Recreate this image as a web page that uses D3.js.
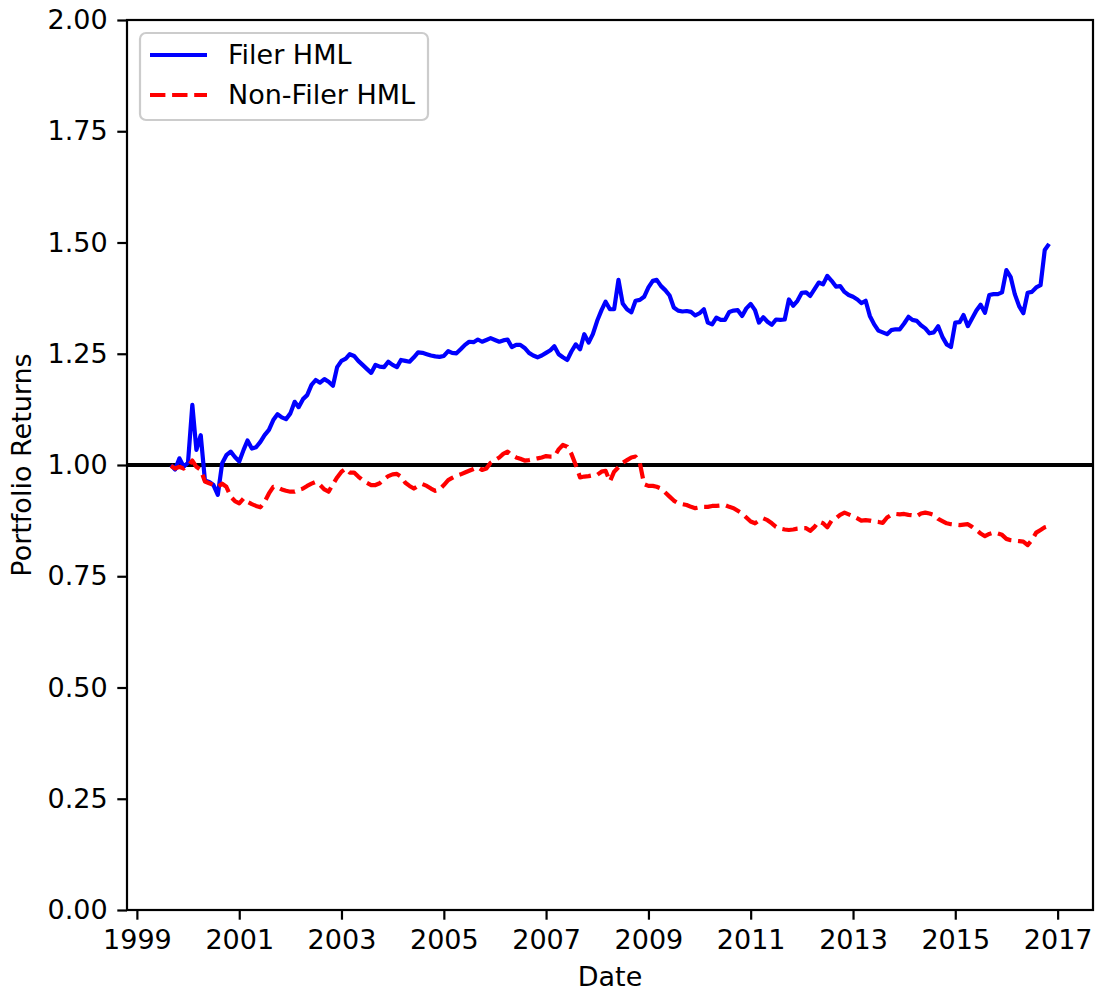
<!DOCTYPE html>
<html>
<head>
<meta charset="utf-8">
<script src="https://cdn.jsdelivr.net/npm/d3@7"></script>
<style>
  body { margin: 0; background: #fff; }
  svg { display: block; font-family: "DejaVu Sans", sans-serif; }
</style>
</head>
<body>
<div id="chart"></div>
<script>
// monthly series, first observation Sep 1999
var startMonth = new Date(1999, 8, 1)

var filerHML = [
  1.000, 0.990, 1.015, 0.996, 1.005, 1.135, 1.034, 1.067, 0.965, 0.962,
  0.955, 0.933, 1.004, 1.022, 1.030, 1.018, 1.008, 1.034, 1.055, 1.037,
  1.040, 1.052, 1.067, 1.079, 1.101, 1.114, 1.107, 1.103, 1.116, 1.142,
  1.130, 1.148, 1.157, 1.180, 1.191, 1.185, 1.193, 1.187, 1.178, 1.220,
  1.234, 1.239, 1.249, 1.245, 1.234, 1.225, 1.216, 1.207, 1.225, 1.221,
  1.220, 1.232, 1.225, 1.220, 1.236, 1.234, 1.232, 1.242, 1.253, 1.252,
  1.249, 1.246, 1.244, 1.243, 1.245, 1.256, 1.252, 1.251, 1.260, 1.270,
  1.277, 1.276, 1.282, 1.277, 1.281, 1.285, 1.281, 1.277, 1.280, 1.282,
  1.265, 1.270, 1.270, 1.263, 1.252, 1.246, 1.242, 1.246, 1.252, 1.258,
  1.267, 1.249, 1.242, 1.236, 1.255, 1.271, 1.260, 1.294, 1.275, 1.294,
  1.324, 1.348, 1.367, 1.350, 1.350, 1.416, 1.363, 1.350, 1.343, 1.369,
  1.371, 1.378, 1.399, 1.414, 1.416, 1.402, 1.393, 1.381, 1.354, 1.347,
  1.345, 1.346, 1.344, 1.336, 1.341, 1.350, 1.320, 1.316, 1.331, 1.326,
  1.326, 1.344, 1.347, 1.348, 1.335, 1.352, 1.362, 1.348, 1.320, 1.332,
  1.322, 1.315, 1.327, 1.326, 1.327, 1.372, 1.358, 1.369, 1.387, 1.388,
  1.380, 1.395, 1.410, 1.406, 1.425, 1.414, 1.401, 1.402, 1.389, 1.382,
  1.378, 1.372, 1.364, 1.369, 1.335, 1.316, 1.302, 1.298, 1.294, 1.303,
  1.305, 1.305, 1.318, 1.333, 1.326, 1.324, 1.314, 1.307, 1.296, 1.298,
  1.312, 1.288, 1.271, 1.265, 1.320, 1.321, 1.337, 1.312, 1.329, 1.347,
  1.360, 1.342, 1.382, 1.384, 1.384, 1.388, 1.438, 1.422, 1.384, 1.357,
  1.341, 1.387, 1.389, 1.399, 1.404, 1.483, 1.497
]

var nonFilerHML = [
  0.998, 0.992, 0.996, 0.992, 0.998, 1.010, 0.996, 0.989, 0.963, 0.959,
  0.955, 0.951, 0.958, 0.951, 0.929, 0.919, 0.914, 0.925, 0.917, 0.912,
  0.908, 0.905, 0.917, 0.936, 0.951, 0.950, 0.945, 0.942, 0.940, 0.940,
  0.944, 0.947, 0.953, 0.958, 0.962, 0.955, 0.945, 0.940, 0.957, 0.972,
  0.985, 0.992, 0.983, 0.983, 0.974, 0.966, 0.960, 0.955, 0.955, 0.959,
  0.968, 0.975, 0.979, 0.980, 0.974, 0.960, 0.953, 0.947, 0.953, 0.957,
  0.953, 0.947, 0.942, 0.945, 0.955, 0.966, 0.971, 0.976, 0.979, 0.983,
  0.987, 0.991, 0.995, 0.989, 0.992, 1.005, 1.011, 1.017, 1.025, 1.030,
  1.022, 1.017, 1.014, 1.010, 1.011, 1.013, 1.015, 1.017, 1.020, 1.019,
  1.019, 1.035, 1.045, 1.041, 1.025, 1.000, 0.972, 0.974, 0.975, 0.977,
  0.978, 0.985, 0.987, 0.963, 0.985, 0.995, 1.005, 1.011, 1.017, 1.019,
  1.004, 0.957, 0.953, 0.953, 0.951, 0.947, 0.938, 0.929, 0.920, 0.914,
  0.912, 0.910, 0.906, 0.903, 0.905, 0.906, 0.906, 0.908, 0.908, 0.909,
  0.910, 0.906, 0.903, 0.897, 0.891, 0.882, 0.873, 0.869, 0.875, 0.880,
  0.876, 0.869, 0.861, 0.857, 0.855, 0.854, 0.855, 0.857, 0.858, 0.858,
  0.852, 0.861, 0.873, 0.869, 0.860, 0.875, 0.880, 0.888, 0.893, 0.889,
  0.885, 0.880, 0.875, 0.876, 0.875, 0.873, 0.872, 0.870, 0.882, 0.888,
  0.890, 0.889, 0.890, 0.888, 0.887, 0.885, 0.891, 0.893, 0.891, 0.888,
  0.879, 0.874, 0.869, 0.867, 0.866, 0.865, 0.866, 0.867, 0.861, 0.854,
  0.846, 0.840, 0.845, 0.848, 0.846, 0.843, 0.834, 0.831, 0.830, 0.829,
  0.828, 0.820, 0.831, 0.848, 0.854, 0.860, 0.863
]

var xTickYears = [1999, 2001, 2003, 2005, 2007, 2009, 2011, 2013, 2015, 2017]
var yTicks = [0, 0.25, 0.5, 0.75, 1.0, 1.25, 1.5, 1.75, 2.0]
var seriesNames = ['Filer HML', 'Non-Filer HML']

var width = 1096, height = 991
var margin = {top: 20, right: 3, bottom: 81, left: 127}
var fontSize = 27

var svg = d3.select('#chart').append('svg')
  .attr('width', width)
  .attr('height', height)

var plotW = width - margin.left - margin.right
var plotH = height - margin.top - margin.bottom

var g = svg.append('g')
  .attr('transform', 'translate(' + margin.left + ',' + margin.top + ')')

var dates = filerHML.map(function(d, i) { return d3.timeMonth.offset(startMonth, i) })

// matplotlib-style 5% padding on the date axis
var ext = d3.extent(dates)
var pad = (ext[1] - ext[0]) * 0.05
var x = d3.scaleTime()
  .domain([new Date(+ext[0] - pad), new Date(+ext[1] + pad)])
  .range([0, plotW])

var y = d3.scaleLinear()
  .domain([0, 2])
  .range([plotH, 0])

var line = d3.line()
  .x(function(d) { return x(d[0]) })
  .y(function(d) { return y(d[1]) })

// reference line at 1
g.append('line')
  .attr('x1', 0).attr('x2', plotW)
  .attr('y1', y(1)).attr('y2', y(1))
  .attr('stroke', '#000')
  .attr('stroke-width', 4.2)

g.append('path')
  .datum(dates.map(function(d, i) { return [d, filerHML[i]] }))
  .attr('d', line)
  .attr('fill', 'none')
  .attr('stroke', '#0000ff')
  .attr('stroke-width', 4.2)
  .attr('stroke-linejoin', 'round')
  .attr('stroke-linecap', 'butt')

g.append('path')
  .datum(dates.map(function(d, i) { return [d, nonFilerHML[i]] }))
  .attr('d', line)
  .attr('fill', 'none')
  .attr('stroke', '#ff0000')
  .attr('stroke-width', 4.2)
  .attr('stroke-dasharray', '15.4,6.7')
  .attr('stroke-linejoin', 'round')

// axes
var xAxis = d3.axisBottom(x)
  .tickValues(xTickYears.map(function(yr) { return new Date(yr, 0, 1) }))
  .tickFormat(d3.timeFormat('%Y'))
  .tickSize(9.7)
  .tickPadding(9.7)

var yAxis = d3.axisLeft(y)
  .tickValues(yTicks)
  .tickFormat(d3.format('.2f'))
  .tickSize(9.7)
  .tickPadding(9.7)

var gx = g.append('g')
  .attr('transform', 'translate(0,' + plotH + ')')
  .call(xAxis)
var gy = g.append('g').call(yAxis)

;[gx, gy].forEach(function(ax) {
  ax.select('.domain').remove()
  ax.selectAll('line').attr('stroke', '#000').attr('stroke-width', 2.2)
  ax.selectAll('text')
    .attr('fill', '#000')
    .style('font-size', fontSize + 'px')
    .style('font-family', '"DejaVu Sans", sans-serif')
})

// frame
g.append('rect')
  .attr('width', plotW)
  .attr('height', plotH)
  .attr('fill', 'none')
  .attr('stroke', '#000')
  .attr('stroke-width', 2.2)

// axis labels
svg.append('text')
  .attr('x', margin.left + plotW / 2)
  .attr('y', 986)
  .attr('text-anchor', 'middle')
  .style('font-size', fontSize + 'px')
  .text('Date')

svg.append('text')
  .attr('transform', 'translate(31,' + (margin.top + plotH / 2) + ') rotate(-90)')
  .attr('text-anchor', 'middle')
  .style('font-size', fontSize + 'px')
  .text('Portfolio Returns')

// legend
var legend = g.append('g').attr('transform', 'translate(13,13)')
legend.append('rect')
  .attr('width', 288)
  .attr('height', 87)
  .attr('rx', 6)
  .attr('fill', '#fff')
  .attr('fill-opacity', 0.8)
  .attr('stroke', '#cccccc')
  .attr('stroke-width', 2.2)

var styles = [
  {color: '#0000ff', dash: null},
  {color: '#ff0000', dash: '15.4,6.7'}
]
seriesNames.forEach(function(name, i) {
  var row = legend.append('g').attr('transform', 'translate(0,' + (22 + i * 40) + ')')
  row.append('line')
    .attr('x1', 10).attr('x2', 67)
    .attr('stroke', styles[i].color)
    .attr('stroke-width', 4.2)
    .attr('stroke-dasharray', styles[i].dash)
  row.append('text')
    .attr('x', 88)
    .attr('dy', '0.35em')
    .style('font-size', fontSize + 'px')
    .text(name)
})
</script>
</body>
</html>
